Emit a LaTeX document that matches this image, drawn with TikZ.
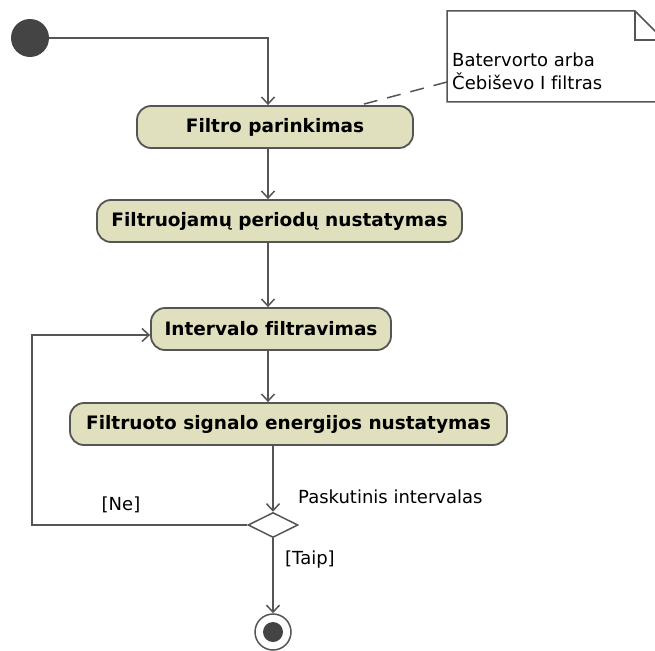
\documentclass[tikz,border=0pt]{standalone}
\usepackage{fontspec}
\setmainfont{DejaVu Sans}[Ligatures=NoCommon]
\usetikzlibrary{arrows.meta,shapes.geometric}
\definecolor{actfill}{RGB}{224,224,190}
\definecolor{edgegray}{RGB}{85,85,85}
\definecolor{dotgray}{RGB}{68,68,68}

\begin{document}
\begin{tikzpicture}[x=1pt,y=-1pt,
  action/.style={draw=edgegray, line width=1.8pt, fill=actfill,
    rounded corners=14pt, inner sep=0pt, minimum height=42pt,
    font=\bfseries\fontsize{18.5}{20}\selectfont},
  flow/.style={draw=edgegray, line width=1.5pt,
    -{Straight Barb[length=7pt,width=13pt,line width=1.5pt]}},
  label/.style={font=\fontsize{18}{23}\selectfont, inner sep=0pt},
  decision/.style={diamond, draw=edgegray, line width=1.5pt, fill=white,
    aspect=2, minimum width=50pt, minimum height=25pt, inner sep=0pt},
]
\clip (0,0) rectangle (655,650);

% start node
\node[circle, fill=dotgray, minimum size=38pt, inner sep=0pt] (init) at (30,38) {};

% actions
\node[action, minimum width=276pt] (filtro)  at (275,127)   {Filtro parinkimas};
\node[action, minimum width=365pt] (periodu) at (279.5,221) {Filtruojamų periodų nustatymas};
\node[action, minimum width=240pt] (interv)  at (271,329)   {Intervalo filtravimas};
\node[action, minimum width=437pt] (energ)   at (288.5,424) {Filtruoto signalo energijos nustatymas};

% decision and end
\node[decision] (dec) at (273,525) {};
\node[circle, draw=edgegray, line width=1.5pt, fill=white, minimum size=36pt, inner sep=0pt] (final) at (273,632) {};
\node[circle, fill=dotgray, minimum size=20pt, inner sep=0pt] (finaldot) at (final) {};

% columns and bends
\coordinate (col) at (268,0);
\coordinate (lp)  at (32,335);

% flows
\draw[flow] (init) -| (filtro.north -| col);
\draw[flow] (filtro.south -| col) -- (periodu.north -| col);
\draw[flow] (periodu.south -| col) -- (interv.north -| col);
\draw[flow] (interv.south -| col) -- (energ.north -| col);
\draw[flow] (energ.south -| dec) -- (dec.north);
\draw[flow] (dec.south) -- (final.north);
\draw[flow] (dec.west) -- (dec.west -| lp) -- (lp) -- (lp -| interv.west);

% guard labels
\node[label] (ne)   at (121,505) {[Ne]};
\node[label, anchor=west] (pask) at (298,497) {Paskutinis intervalas};
\node[label, anchor=west] (taip) at (285,560) {[Taip]};

% note with folded corner
\coordinate (nA) at (447,11);
\coordinate (nB) at (635,11);
\coordinate (nC) at (664,40);
\coordinate (nD) at (664,102);
\coordinate (nE) at (447,102);
\draw[edgegray, line width=1.5pt, fill=white] (nA) -- (nB) -- (nC) -- (nD) -- (nE) -- cycle;
\draw[edgegray, line width=1.5pt] (nB) -- (nB |- nC) -- (nC);
\node[label, anchor=west, align=left] (notetext) at (452,71) {Batervorto arba\\Čebiševo I filtras};
\coordinate (nlink) at (447,82);
\draw[edgegray, line width=1.5pt, dash pattern=on 14pt off 10pt] (nlink) -- ([xshift=85pt]filtro.north);
\end{tikzpicture}
\end{document}
